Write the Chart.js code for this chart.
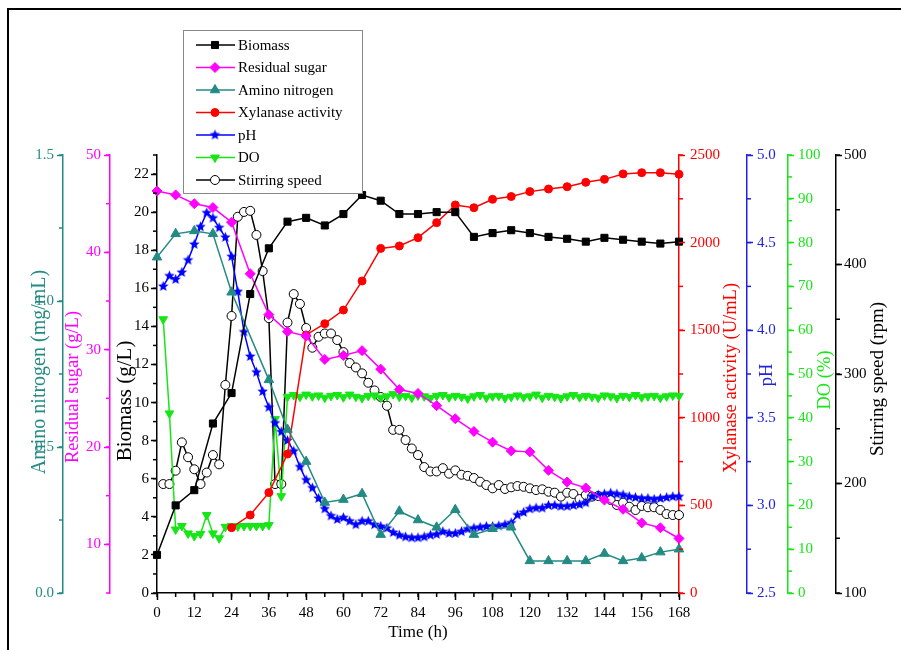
<!DOCTYPE html>
<html>
<head>
<meta charset="utf-8">
<script src="https://cdn.jsdelivr.net/npm/chart.js@4.4.0/dist/chart.umd.min.js"></script>
<style>
  html, body { margin: 0; padding: 0; background: #fff; }
  #wrap { position: relative; width: 901px; height: 650px; overflow: hidden; }
  #frame { position: absolute; left: 7px; top: 8px; right: -10px; bottom: -10px;
           border-left: 2px solid #000; border-top: 2px solid #000; pointer-events: none; }
  canvas { position: absolute; left: 0; top: 0; }
</style>
</head>
<body>
<div id="wrap">
  <canvas id="c" width="901" height="650"></canvas>
  <div id="frame"></div>
</div>
<script>
// sampled every 6 h
const sampleHours = [0,6,12,18,24,30,36,42,48,54,60,66,72,78,84,90,96,102,108,114,120,126,132,138,144,150,156,162,168];
const biomass = [2.0,4.6,5.4,8.9,10.5,15.7,18.1,19.5,19.7,19.3,19.9,20.9,20.6,19.9,19.9,20.0,20.0,18.7,18.9,19.05,18.9,18.7,18.6,18.45,18.65,18.55,18.45,18.35,18.45];
const sugar = [46.3,45.9,45.0,44.6,43.1,37.8,33.6,31.85,31.4,29.0,29.4,29.9,28.0,25.9,25.5,24.25,22.9,21.6,20.5,19.6,19.5,17.6,16.4,15.8,14.55,13.6,12.2,11.7,10.6];

const aminoHours = [0,6,12,18,24,36,42,48,54,60,66,72,78,84,90,96,102,108,114,120,126,132,138,144,150,156,162,168];
const amino = [1.15,1.23,1.24,1.23,1.03,0.73,0.56,0.45,0.31,0.32,0.34,0.20,0.28,0.25,0.225,0.285,0.20,0.22,0.225,0.11,0.11,0.11,0.11,0.135,0.11,0.12,0.14,0.15];

const xylanaseHours = [24,30,36,42,48,54,60,66,72,78,84,90,96,102,108,114,120,126,132,138,144,150,156,162,168];
const xylanase = [373,445,573,793,1473,1537,1615,1781,1967,1981,2028,2114,2215,2199,2247,2263,2291,2306,2319,2344,2361,2392,2399,2399,2390];

// online probes, every 2 h
const probeHours = [2,4,6,8,10,12,14,16,18,20,22,24,26,28,30,32,34,36,38,40,42,44,46,48,50,52,54,56,58,60,62,64,66,68,70,72,74,76,78,80,82,84,86,88,90,92,94,96,98,100,102,104,106,108,110,112,114,116,118,120,122,124,126,128,130,132,134,136,138,140,142,144,146,148,150,152,154,156,158,160,162,164,166,168];
const pH = [4.25,4.31,4.29,4.33,4.40,4.49,4.59,4.67,4.64,4.585,4.53,4.42,4.22,3.99,3.85,3.76,3.65,3.56,3.47,3.42,
  3.37,3.31,3.22,3.145,3.10,3.04,2.98,2.94,2.92,2.93,2.91,2.89,2.91,2.91,2.89,2.88,2.87,2.845,2.83,2.82,
  2.815,2.815,2.82,2.83,2.835,2.85,2.84,2.84,2.85,2.865,2.87,2.875,2.88,2.88,2.883,2.89,2.90,2.945,2.96,2.98,
  2.985,2.985,3.0,3.0,2.995,2.995,3.0,3.005,3.015,3.05,3.06,3.065,3.07,3.065,3.06,3.05,3.045,3.04,3.04,3.035,
  3.04,3.045,3.05,3.05];
const dissolvedO2 = [62.5,41,14.5,15.3,13.6,13.0,13.5,17.8,13.6,12.5,15.1,15.3,15.2,15.3,15.3,15.3,15.3,15.5,39.7,22.1,
  44.8,45.2,44.8,45.3,44.9,45.1,44.6,45.0,45.2,44.7,45.3,44.8,44.5,45.0,45.1,44.6,44.9,45.4,44.8,45.0,
  44.6,45.1,44.9,44.5,45.0,45.2,44.7,45.0,44.8,44.4,44.9,45.2,44.6,44.9,45.0,44.5,44.8,45.1,44.7,44.9,
  45.3,44.6,45.0,44.8,44.5,44.9,45.2,44.7,45.0,44.8,44.6,45.1,44.9,44.5,45.0,44.8,45.2,44.7,44.9,45.0,
  44.6,44.9,45.1,45.0];
const stirring = [199.5,199.5,211.7,237.6,224,213,199.5,210,226,217.5,290,353,443.6,448,449,427,394,351,199.5,199.5,
  347,373,364,342,324,334,337,337,331,320,310,306,300.6,292,285,279,271,249,249,239.7,
  232,226,215,211,211,214,209,212,208,207,205,201.6,198.6,195.6,198.6,195,196.5,197.7,197,195.6,
  194,194.7,192.5,191.6,188,191.6,190.4,185.8,189.5,188,188.6,187.4,185,180.4,182.5,178.8,175.8,179.5,178.3,178.3,
  175.8,172.1,171.2,171.2];

// tick labels
const timeTicks = [0,12,24,36,48,60,72,84,96,108,120,132,144,156,168];
const biomassTicks = [0,2,4,6,8,10,12,14,16,18,20,22];
const aminoTicks = [0,0.5,1.0,1.5];
const sugarTicks = [10,20,30,40,50];
const xylanaseTicks = [0,500,1000,1500,2000,2500];
const pHTicks = [2.5,3.0,3.5,4.0,4.5,5.0];
const doTicks = [0,10,20,30,40,50,60,70,80,90,100];
const stirTicks = [100,200,300,400,500];

const serif = 'Liberation Serif';
const teal = '#238a84';
const green = '#16e616';

const pts = (xs, ys) => xs.map((x, i) => ({x: x, y: ys[i]}));

function starImage(color, r) {
  const c = document.createElement('canvas');
  const s = Math.ceil(r * 2 + 2);
  c.width = c.height = s;
  const g = c.getContext('2d');
  g.beginPath();
  for (let i = 0; i < 10; i++) {
    const a = -Math.PI / 2 + i * Math.PI / 5;
    const rr = i % 2 ? r * 0.45 : r;
    g.lineTo(s / 2 + rr * Math.cos(a), s / 2 + rr * Math.sin(a));
  }
  g.closePath();
  g.fillStyle = color;
  g.fill();
  return c;
}

function series(label, data, axis, color, style, radius, fill, rotation) {
  return {
    label: label, data: data, yAxisID: axis,
    borderColor: color, backgroundColor: color, borderWidth: 1.5,
    pointStyle: style, pointRadius: radius, pointRotation: rotation || 0,
    pointBackgroundColor: fill || color, pointBorderColor: color, pointBorderWidth: 1,
    tension: 0, clip: false
  };
}

function yAxis(pos, weight, min, max, ticks, color, width, pad, digits) {
  return {
    type: 'linear', position: pos, weight: weight, min: min, max: max,
    afterBuildTicks: s => { s.ticks = ticks.map(v => ({value: v})); },
    afterFit: s => { s.width = width; },
    grid: { display: true, drawOnChartArea: false, drawTicks: true, tickLength: 6, tickWidth: 1.5, tickColor: color },
    border: { display: true, color: color, width: 1.5 },
    ticks: { color: color, padding: pad, autoSkip: false, font: { family: serif, size: 15 },
             callback: v => v.toFixed(digits) },
    title: { display: false }
  };
}

// minor tick spacing per axis
const minorSteps = { x: 6, yBio: 1, yAmino: 0.25, ySugar: 5, yXyl: 250, yPH: 0.25, yDO: 5, yStir: 50 };

const minorTicks = {
  id: 'minorTicks',
  afterDraw(chart) {
    const ctx = chart.ctx;
    ctx.save();
    ctx.lineWidth = 1.5;
    Object.keys(minorSteps).forEach(id => {
      const s = chart.scales[id];
      const step = minorSteps[id];
      ctx.strokeStyle = s.options.border.color;
      for (let k = 0; s.min + k * step <= s.max + 1e-9; k++) {
        const v = s.min + k * step;
        const p = s.getPixelForValue(v);
        ctx.beginPath();
        if (s.isHorizontal()) {
          ctx.moveTo(p, s.top); ctx.lineTo(p, s.top + 4);
        } else if (s.position === 'left') {
          ctx.moveTo(s.right, p); ctx.lineTo(s.right - 4, p);
        } else {
          ctx.moveTo(s.left, p); ctx.lineTo(s.left + 4, p);
        }
        ctx.stroke();
      }
    });
    ctx.restore();
  }
};

// rotated axis titles, all reading bottom to top
const sideTitles = {
  yAmino: { text: 'Amino nitrogen (mg/mL)', dx: 10, cy: 372, size: 20 },
  ySugar: { text: 'Residual sugar (g/L)', dx: 10.5, cy: 387, size: 18.5 },
  yBio: { text: 'Biomass (g/L)', dx: 15, cy: 401, size: 21 },
  yXyl: { text: 'Xylanase activity (U/mL)', dx: 52, cy: 378, size: 18.5 },
  yPH: { text: 'pH', dx: 20, cy: 375, size: 18.5 },
  yDO: { text: 'DO (%)', dx: 37, cy: 380, size: 18.5 },
  yStir: { text: 'Stirring speed (rpm)', dx: 42, cy: 379, size: 19 }
};

const titlesPlugin = {
  id: 'sideTitles',
  afterDraw(chart) {
    const ctx = chart.ctx;
    Object.keys(sideTitles).forEach(id => {
      const s = chart.scales[id];
      const t = sideTitles[id];
      ctx.save();
      ctx.translate(s.left + t.dx, t.cy);
      ctx.rotate(-Math.PI / 2);
      ctx.font = t.size + 'px "' + serif + '"';
      ctx.fillStyle = s.options.border.color;
      ctx.textAlign = 'center';
      ctx.textBaseline = 'middle';
      ctx.fillText(t.text, 0, 0);
      ctx.restore();
    });
  }
};

const legendBox = {
  id: 'legendBox',
  afterDraw(chart) {
    const ctx = chart.ctx;
    const x0 = 183, y0 = 30, w = 179, h = 163, row = 22.5;
    ctx.save();
    ctx.fillStyle = '#fff';
    ctx.fillRect(x0, y0, w, h);
    ctx.strokeStyle = '#888';
    ctx.lineWidth = 1;
    ctx.strokeRect(x0 + 0.5, y0 + 0.5, w, h);
    chart.data.datasets.forEach((ds, i) => {
      const y = y0 + 15 + i * row;
      ctx.strokeStyle = ds.borderColor;
      ctx.lineWidth = 1.5;
      ctx.beginPath();
      ctx.moveTo(x0 + 13, y); ctx.lineTo(x0 + 52, y);
      ctx.stroke();
      ctx.fillStyle = ds.pointBackgroundColor;
      ctx.strokeStyle = ds.pointBorderColor;
      ctx.lineWidth = 1;
      Chart.helpers.drawPoint(ctx, { pointStyle: ds.pointStyle, radius: ds.pointRadius,
        rotation: ds.pointRotation, borderWidth: 1 }, x0 + 32, y);
      ctx.fillStyle = '#000';
      ctx.font = '15px "' + serif + '"';
      ctx.textAlign = 'left';
      ctx.textBaseline = 'middle';
      ctx.fillText(ds.label, x0 + 55, y + 1);
    });
    ctx.restore();
  }
};

new Chart(document.getElementById('c'), {
  type: 'line',
  data: {
    datasets: [
      series('Biomass', pts(sampleHours, biomass), 'yBio', '#000000', 'rect', 5),
      series('Residual sugar', pts(sampleHours, sugar), 'ySugar', '#ff00ff', 'rectRot', 5),
      series('Amino nitrogen', pts(aminoHours, amino), 'yAmino', teal, 'triangle', 5.5),
      series('Xylanase activity', pts(xylanaseHours, xylanase), 'yXyl', '#ff0000', 'circle', 4),
      series('pH', pts(probeHours, pH), 'yPH', '#0000ff', starImage('#0000ff', 5.5), 5.5),
      series('DO', pts(probeHours, dissolvedO2), 'yDO', green, 'triangle', 5, green, 180),
      series('Stirring speed', pts(probeHours, stirring), 'yStir', '#000000', 'circle', 4.5, '#ffffff')
    ]
  },
  options: {
    responsive: false,
    animation: false,
    events: [],
    layout: { padding: { left: 30, right: 10, top: 155, bottom: 0 } },
    plugins: { legend: { display: false }, tooltip: { enabled: false } },
    scales: {
      x: {
        type: 'linear', min: 0, max: 168,
        afterBuildTicks: s => { s.ticks = timeTicks.map(v => ({value: v})); },
        afterFit: s => { s.height = 57; },
        grid: { display: true, drawOnChartArea: false, drawTicks: true, tickLength: 7, tickWidth: 1.5, tickColor: '#000' },
        border: { display: true, color: '#000', width: 1.5 },
        ticks: { color: '#000', padding: 4, maxRotation: 0, autoSkip: false, font: { family: serif, size: 15 } },
        title: { display: true, text: 'Time (h)', color: '#000', font: { family: serif, size: 17 }, padding: { top: 0, bottom: 7 } }
      },
      yBio: yAxis('left', 1, 0, 23, biomassTicks, '#000000', 47, 2, 0),
      ySugar: yAxis('left', 2, 5, 50, sugarTicks, '#ff00ff', 47, 3, 0),
      yAmino: yAxis('left', 3, 0, 1.5, aminoTicks, teal, 33, 3, 1),
      yXyl: yAxis('right', 1, 0, 2500, xylanaseTicks, '#ff0000', 68, 5, 0),
      yPH: yAxis('right', 2, 2.5, 5.0, pHTicks, '#2222dd', 41, 4, 1),
      yDO: yAxis('right', 3, 0, 100, doTicks, green, 48, 4, 0),
      yStir: yAxis('right', 4, 100, 500, stirTicks, '#000000', 55, 2, 0)
    }
  },
  plugins: [minorTicks, titlesPlugin, legendBox]
});
</script>
</body>
</html>
